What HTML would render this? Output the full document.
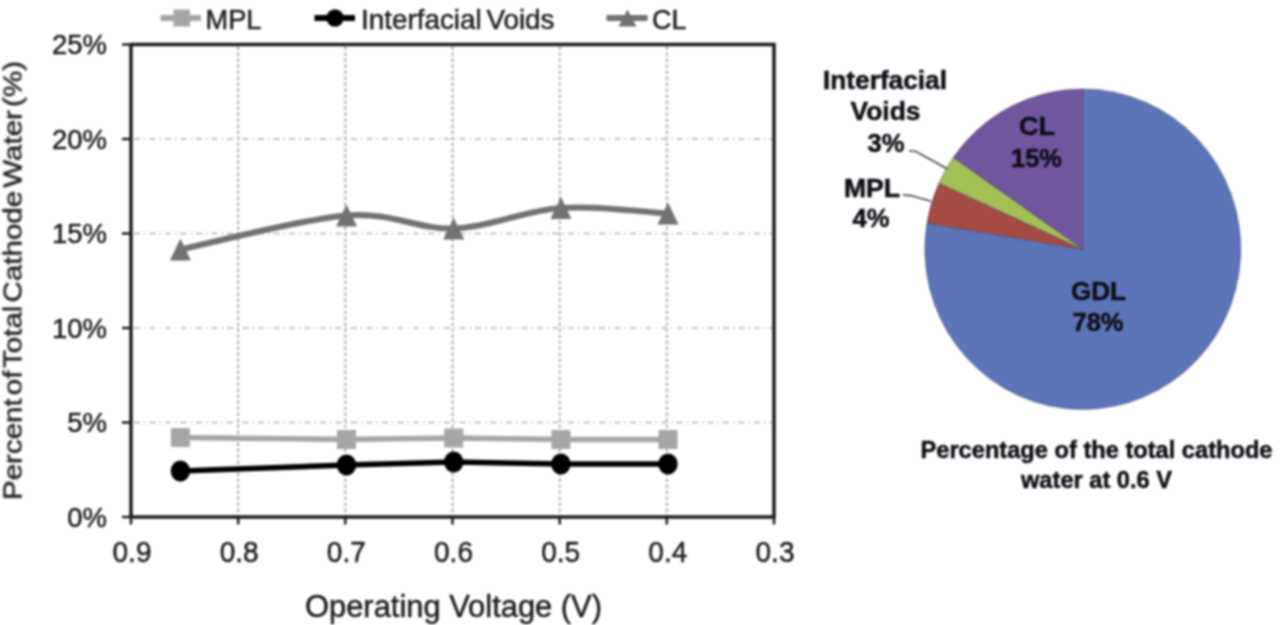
<!DOCTYPE html>
<html><head><meta charset="utf-8"><title>chart</title>
<style>
html,body{margin:0;padding:0;background:#fff;}
body{width:1280px;height:625px;overflow:hidden;}
svg{display:block;font-family:"Liberation Sans",sans-serif;}
</style></head><body>
<svg width="1280" height="625" viewBox="0 0 1280 625">
<rect width="1280" height="625" fill="#ffffff"/>
<defs><filter id="soft" x="0" y="0" width="1280" height="625" filterUnits="userSpaceOnUse" color-interpolation-filters="sRGB"><feGaussianBlur stdDeviation="1.0"/></filter></defs>
<g filter="url(#soft)">
<line x1="134.0" y1="422.5" x2="772.0" y2="422.5" stroke="#b0b0b0" stroke-width="1.6" stroke-dasharray="6 4 1.5 4"/>
<line x1="134.0" y1="328.0" x2="772.0" y2="328.0" stroke="#b0b0b0" stroke-width="1.6" stroke-dasharray="6 4 1.5 4"/>
<line x1="134.0" y1="233.5" x2="772.0" y2="233.5" stroke="#b0b0b0" stroke-width="1.6" stroke-dasharray="6 4 1.5 4"/>
<line x1="134.0" y1="139.0" x2="772.0" y2="139.0" stroke="#b0b0b0" stroke-width="1.6" stroke-dasharray="6 4 1.5 4"/>
<line x1="238.2" y1="46.5" x2="238.2" y2="515.0" stroke="#969696" stroke-width="1.5" stroke-dasharray="3.5 2.5"/>
<line x1="345.3" y1="46.5" x2="345.3" y2="515.0" stroke="#969696" stroke-width="1.5" stroke-dasharray="3.5 2.5"/>
<line x1="452.5" y1="46.5" x2="452.5" y2="515.0" stroke="#969696" stroke-width="1.5" stroke-dasharray="3.5 2.5"/>
<line x1="559.7" y1="46.5" x2="559.7" y2="515.0" stroke="#969696" stroke-width="1.5" stroke-dasharray="3.5 2.5"/>
<line x1="666.8" y1="46.5" x2="666.8" y2="515.0" stroke="#969696" stroke-width="1.5" stroke-dasharray="3.5 2.5"/>
<rect x="131.0" y="44.5" width="643.0" height="472.5" fill="none" stroke="#1c1c1c" stroke-width="3.5"/>
<line x1="122.0" y1="517.0" x2="131.0" y2="517.0" stroke="#1c1c1c" stroke-width="2.5"/>
<line x1="122.0" y1="422.5" x2="131.0" y2="422.5" stroke="#1c1c1c" stroke-width="2.5"/>
<line x1="122.0" y1="328.0" x2="131.0" y2="328.0" stroke="#1c1c1c" stroke-width="2.5"/>
<line x1="122.0" y1="233.5" x2="131.0" y2="233.5" stroke="#1c1c1c" stroke-width="2.5"/>
<line x1="122.0" y1="139.0" x2="131.0" y2="139.0" stroke="#1c1c1c" stroke-width="2.5"/>
<line x1="122.0" y1="44.5" x2="131.0" y2="44.5" stroke="#1c1c1c" stroke-width="2.5"/>
<line x1="131.0" y1="517.0" x2="131.0" y2="524.5" stroke="#1c1c1c" stroke-width="2.5"/>
<line x1="238.2" y1="517.0" x2="238.2" y2="524.5" stroke="#1c1c1c" stroke-width="2.5"/>
<line x1="345.3" y1="517.0" x2="345.3" y2="524.5" stroke="#1c1c1c" stroke-width="2.5"/>
<line x1="452.5" y1="517.0" x2="452.5" y2="524.5" stroke="#1c1c1c" stroke-width="2.5"/>
<line x1="559.7" y1="517.0" x2="559.7" y2="524.5" stroke="#1c1c1c" stroke-width="2.5"/>
<line x1="666.8" y1="517.0" x2="666.8" y2="524.5" stroke="#1c1c1c" stroke-width="2.5"/>
<line x1="774.0" y1="517.0" x2="774.0" y2="524.5" stroke="#1c1c1c" stroke-width="2.5"/>
<text x="107.0" y="526.9" font-size="27.5" text-anchor="end" font-weight="normal" fill="#1e1e1e" stroke="#1e1e1e" stroke-width="0.5">0%</text>
<text x="107.0" y="432.4" font-size="27.5" text-anchor="end" font-weight="normal" fill="#1e1e1e" stroke="#1e1e1e" stroke-width="0.5">5%</text>
<text x="107.0" y="337.9" font-size="27.5" text-anchor="end" font-weight="normal" fill="#1e1e1e" stroke="#1e1e1e" stroke-width="0.5">10%</text>
<text x="107.0" y="243.4" font-size="27.5" text-anchor="end" font-weight="normal" fill="#1e1e1e" stroke="#1e1e1e" stroke-width="0.5">15%</text>
<text x="107.0" y="148.9" font-size="27.5" text-anchor="end" font-weight="normal" fill="#1e1e1e" stroke="#1e1e1e" stroke-width="0.5">20%</text>
<text x="107.0" y="54.4" font-size="27.5" text-anchor="end" font-weight="normal" fill="#1e1e1e" stroke="#1e1e1e" stroke-width="0.5">25%</text>
<text x="132.0" y="561.8" font-size="29.0" text-anchor="middle" font-weight="normal" fill="#1e1e1e" stroke="#1e1e1e" stroke-width="0.5" textLength="39.0" lengthAdjust="spacingAndGlyphs">0.9</text>
<text x="239.2" y="561.8" font-size="29.0" text-anchor="middle" font-weight="normal" fill="#1e1e1e" stroke="#1e1e1e" stroke-width="0.5" textLength="39.0" lengthAdjust="spacingAndGlyphs">0.8</text>
<text x="346.3" y="561.8" font-size="29.0" text-anchor="middle" font-weight="normal" fill="#1e1e1e" stroke="#1e1e1e" stroke-width="0.5" textLength="39.0" lengthAdjust="spacingAndGlyphs">0.7</text>
<text x="453.5" y="561.8" font-size="29.0" text-anchor="middle" font-weight="normal" fill="#1e1e1e" stroke="#1e1e1e" stroke-width="0.5" textLength="39.0" lengthAdjust="spacingAndGlyphs">0.6</text>
<text x="560.7" y="561.8" font-size="29.0" text-anchor="middle" font-weight="normal" fill="#1e1e1e" stroke="#1e1e1e" stroke-width="0.5" textLength="39.0" lengthAdjust="spacingAndGlyphs">0.5</text>
<text x="667.8" y="561.8" font-size="29.0" text-anchor="middle" font-weight="normal" fill="#1e1e1e" stroke="#1e1e1e" stroke-width="0.5" textLength="39.0" lengthAdjust="spacingAndGlyphs">0.4</text>
<text x="775.0" y="561.8" font-size="29.0" text-anchor="middle" font-weight="normal" fill="#1e1e1e" stroke="#1e1e1e" stroke-width="0.5" textLength="39.0" lengthAdjust="spacingAndGlyphs">0.3</text>
<text x="453.5" y="617.0" font-size="31.0" text-anchor="middle" font-weight="normal" fill="#1e1e1e" stroke="#1e1e1e" stroke-width="0.5" textLength="297.0" lengthAdjust="spacingAndGlyphs">Operating Voltage (V)</text>
<text transform="translate(21.5,280.5) rotate(-90)" font-size="26.5" text-anchor="middle" fill="#1e1e1e" stroke="#1e1e1e" stroke-width="0.5" word-spacing="-4.5" textLength="439" lengthAdjust="spacingAndGlyphs">Percent of Total Cathode Water (%)</text>
<polyline fill="none" stroke="#a6a6a6" stroke-width="5.6" stroke-linejoin="round" points="180.4,437.5 346.5,439.5 453.7,438.0 560.9,439.5 668.0,439.5"/>
<rect x="170.9" y="428.0" width="19" height="19" fill="#a6a6a6"/>
<rect x="337.0" y="430.0" width="19" height="19" fill="#a6a6a6"/>
<rect x="444.2" y="428.5" width="19" height="19" fill="#a6a6a6"/>
<rect x="551.4" y="430.0" width="19" height="19" fill="#a6a6a6"/>
<rect x="658.5" y="430.0" width="19" height="19" fill="#a6a6a6"/>
<polyline fill="none" stroke="#000000" stroke-width="5.6" stroke-linejoin="round" points="180.4,471.0 346.5,465.0 453.7,462.0 560.9,464.0 668.0,464.0"/>
<ellipse cx="180.4" cy="471.0" rx="9.7" ry="10.6" fill="#000000"/>
<ellipse cx="346.5" cy="465.0" rx="9.7" ry="10.6" fill="#000000"/>
<ellipse cx="453.7" cy="462.0" rx="9.7" ry="10.6" fill="#000000"/>
<ellipse cx="560.9" cy="464.0" rx="9.7" ry="10.6" fill="#000000"/>
<ellipse cx="668.0" cy="464.0" rx="9.7" ry="10.6" fill="#000000"/>
<path fill="none" stroke="#727272" stroke-width="6" stroke-linecap="round" d="M180.43,249.50 C208.11,243.83 300.99,219.00 346.53,215.50 C392.08,212.00 417.98,229.75 453.70,228.50 C489.42,227.25 525.14,210.50 560.87,208.00 C596.59,205.50 650.17,212.58 668.03,213.50"/>
<path d="M180.4,238.5 L190.9,260.5 L169.9,260.5 Z" fill="#727272"/>
<path d="M346.5,204.5 L357.0,226.5 L336.0,226.5 Z" fill="#727272"/>
<path d="M453.7,217.5 L464.2,239.5 L443.2,239.5 Z" fill="#727272"/>
<path d="M560.9,197.0 L571.4,219.0 L550.4,219.0 Z" fill="#727272"/>
<path d="M668.0,202.5 L678.5,224.5 L657.5,224.5 Z" fill="#727272"/>
<line x1="160.5" y1="18.0" x2="201" y2="18.0" stroke="#a6a6a6" stroke-width="6"/>
<rect x="173.5" y="9.5" width="16.5" height="17" fill="#a6a6a6"/>
<text x="205.5" y="28.6" font-size="27.5" text-anchor="start" font-weight="normal" fill="#1e1e1e" stroke="#1e1e1e" stroke-width="0.5" textLength="56.0" lengthAdjust="spacingAndGlyphs">MPL</text>
<line x1="314.5" y1="18.0" x2="355" y2="18.0" stroke="#000000" stroke-width="6"/>
<circle cx="335" cy="18.0" r="8.7" fill="#000000"/>
<text x="361.0" y="28.6" font-size="27.5" text-anchor="start" font-weight="normal" fill="#1e1e1e" stroke="#1e1e1e" stroke-width="0.5" textLength="193.5" lengthAdjust="spacingAndGlyphs" word-spacing="-3">Interfacial Voids</text>
<line x1="606.5" y1="18.0" x2="647.5" y2="18.0" stroke="#727272" stroke-width="6"/>
<path d="M627.5,9.5 L636.5,26.5 L618.5,26.5 Z" fill="#727272"/>
<text x="652.0" y="28.6" font-size="27.5" text-anchor="start" font-weight="normal" fill="#1e1e1e" stroke="#1e1e1e" stroke-width="0.5" textLength="34.5" lengthAdjust="spacingAndGlyphs">CL</text>
<path d="M1082.80,249.20 L1082.80,88.90 A158.0,160.3 0 1 1 926.92,223.02 Z" fill="#5c74b8" stroke="#3c3c5a" stroke-opacity="0.55" stroke-width="0.8" stroke-linejoin="round"/>
<path d="M1082.80,249.20 L926.92,223.02 A158.0,160.3 0 0 1 938.91,182.98 Z" fill="#a64a44" stroke="#3c3c5a" stroke-opacity="0.55" stroke-width="0.8" stroke-linejoin="round"/>
<path d="M1082.80,249.20 L938.91,182.98 A158.0,160.3 0 0 1 953.22,157.49 Z" fill="#a2c054" stroke="#3c3c5a" stroke-opacity="0.55" stroke-width="0.8" stroke-linejoin="round"/>
<path d="M1082.80,249.20 L953.22,157.49 A158.0,160.3 0 0 1 1082.80,88.90 Z" fill="#70569e" stroke="#3c3c5a" stroke-opacity="0.55" stroke-width="0.8" stroke-linejoin="round"/>
<text x="885.0" y="89.0" font-size="25.0" text-anchor="middle" font-weight="bold" fill="#0e0e16" stroke="#0e0e16" stroke-width="0.5" textLength="124.0" lengthAdjust="spacingAndGlyphs">Interfacial</text>
<text x="885.5" y="120.0" font-size="25.0" text-anchor="middle" font-weight="bold" fill="#0e0e16" stroke="#0e0e16" stroke-width="0.5" textLength="70.0" lengthAdjust="spacingAndGlyphs">Voids</text>
<text x="886.0" y="151.5" font-size="25.0" text-anchor="middle" font-weight="bold" fill="#0e0e16" stroke="#0e0e16" stroke-width="0.5" textLength="37.0" lengthAdjust="spacingAndGlyphs">3%</text>
<text x="872.0" y="196.5" font-size="25.0" text-anchor="middle" font-weight="bold" fill="#0e0e16" stroke="#0e0e16" stroke-width="0.5" textLength="56.0" lengthAdjust="spacingAndGlyphs">MPL</text>
<text x="871.0" y="226.5" font-size="25.0" text-anchor="middle" font-weight="bold" fill="#0e0e16" stroke="#0e0e16" stroke-width="0.5" textLength="37.0" lengthAdjust="spacingAndGlyphs">4%</text>
<text x="1037.0" y="135.0" font-size="25.0" text-anchor="middle" font-weight="bold" fill="#0e0e16" stroke="#0e0e16" stroke-width="0.5" textLength="36.0" lengthAdjust="spacingAndGlyphs">CL</text>
<text x="1036.5" y="166.5" font-size="25.0" text-anchor="middle" font-weight="bold" fill="#0e0e16" stroke="#0e0e16" stroke-width="0.5" textLength="51.0" lengthAdjust="spacingAndGlyphs">15%</text>
<text x="1098.5" y="300.3" font-size="25.0" text-anchor="middle" font-weight="bold" fill="#0e0e16" stroke="#0e0e16" stroke-width="0.5" textLength="55.0" lengthAdjust="spacingAndGlyphs">GDL</text>
<text x="1098.0" y="331.3" font-size="25.0" text-anchor="middle" font-weight="bold" fill="#0e0e16" stroke="#0e0e16" stroke-width="0.5" textLength="51.0" lengthAdjust="spacingAndGlyphs">78%</text>
<text x="1096.5" y="458.3" font-size="23.5" text-anchor="middle" font-weight="bold" fill="#0e0e16" stroke="#0e0e16" stroke-width="0.5" textLength="352.0" lengthAdjust="spacingAndGlyphs">Percentage of the total cathode</text>
<text x="1096.5" y="488.3" font-size="23.5" text-anchor="middle" font-weight="bold" fill="#0e0e16" stroke="#0e0e16" stroke-width="0.5" textLength="151.0" lengthAdjust="spacingAndGlyphs">water at 0.6 V</text>
<polyline fill="none" stroke="#444" stroke-width="1.6" points="909,150.8 916,151.5 947.5,169"/>
<polyline fill="none" stroke="#444" stroke-width="1.6" points="903,195 911,195.6 931,201.2"/>
</g>
</svg>
</body></html>
